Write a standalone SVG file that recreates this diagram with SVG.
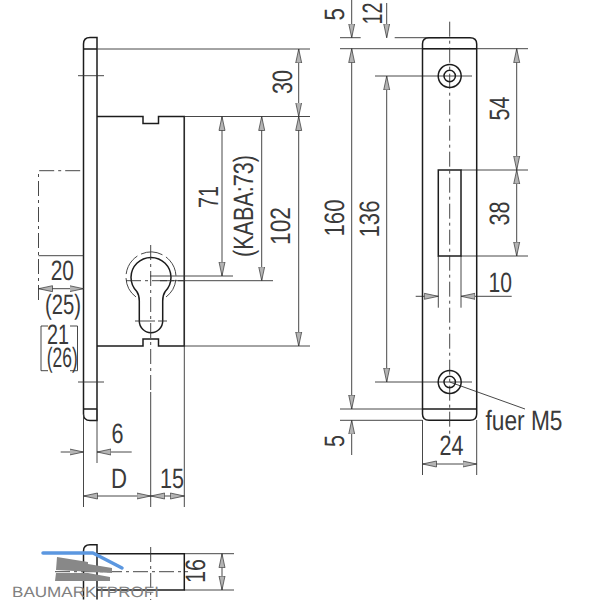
<svg xmlns="http://www.w3.org/2000/svg" width="600" height="600" viewBox="0 0 600 600">
<style>
.o{fill:none;stroke:#1c1c1c;stroke-width:1.5}
.t{fill:none;stroke:#333;stroke-width:.9}
.c{fill:none;stroke:#333;stroke-width:.9;stroke-dasharray:15 4 3 4}
.d{fill:none;stroke:#333;stroke-width:.9;marker-end:url(#a)}
.b{fill:none;stroke:#333;stroke-width:.9;marker-start:url(#a);marker-end:url(#a)}
text{font-family:"Liberation Sans",Arial,sans-serif;font-size:28px;fill:#3a3a3a;text-rendering:geometricPrecision}
.w{font-size:15px;fill:#808080}
</style>
<defs>
<marker id="a" markerUnits="userSpaceOnUse" markerWidth="16" markerHeight="8" refX="14" refY="4" orient="auto-start-reverse" viewBox="0 0 16 8">
<path d="M14 4 L0 1 L0 7 Z" fill="#b4b4b4" stroke="#333" stroke-width=".7"/>
</marker>
</defs>
<rect width="600" height="600" fill="#fff"/>

<g id="side-view">
<path class="o" d="M83.5 49 V44 Q83.5 37.5 90 37.5 H97 V420.5 H90 Q83.5 420.5 83.5 414 V49 H97 M83.5 409 H97"/>
<path class="o" d="M97 116.5 H143 V123.5 H158.5 V116.5 H184.3 V346 H158.5 V339 H143 V346 H97"/>
<path class="t" d="M184.3 116.5 V507"/>
<path class="t" d="M97 409 V463 M83.5 414 V507"/>
<path class="c" d="M38.5 300 V170.7 H83.5"/>
<path class="t" d="M78 75.7 H104 M78 382 H104"/>
</g>

<g id="cylinder">
<path class="o" d="M139.3 321 V301 Q139.3 295 136.8 291.5 A20 20 0 1 1 165.2 291.5 Q162.7 295 162.7 301 V321 A11.7 11.7 0 0 1 139.3 321 Z"/>
<path class="t" stroke-dasharray="22 4" d="M136 297 A25 25 0 1 1 166 297"/>
<path class="c" d="M150.7 245 V392"/>
<path class="t" d="M150.7 392 V507"/>
<path class="c" d="M126 280.7 H184"/>
<path class="t" stroke-dasharray="20 3" d="M135 321 H167"/>
</g>

<g id="connectors">
<path class="t" d="M97 49 H310 M184.3 116.5 H310 M184.3 346 H310 M150 276 H233 M160 280.7 H273"/>
<path class="b" d="M298.7 49 V116.5"/>
<path class="b" d="M222 276 V116.5"/>
<path class="b" d="M261.7 280.7 V116.5"/>
<path class="b" d="M298.7 346 V116.5"/>
<path class="b" d="M38.5 288.7 H83.5"/>
<path class="t" d="M38.5 255.7 H83.5"/>
<path class="t" d="M48 326 H41 V370.7 H48 M70 326 H77.5 V370.7 H70"/>
<path class="d" d="M60.7 452 H83.5"/>
<path class="d" d="M131.7 452 H97"/>
<path class="b" d="M83.5 496 H150.7"/>
<path class="b" d="M150.7 496 H184.3"/>
<path class="t" d="M184.3 553.7 H234 M184.3 590 H234"/>
<path class="b" d="M222 553.7 V590"/>
<path class="t" d="M340 37.7 H360.7 M394.7 37.7 H440 M340 48.7 H528 M375 76 H472 M375 382 H472 M340 409 H422.3 M340 420.3 H422.3 M461 170 H528 M461 256 H528"/>
<path class="d" d="M351.7 0 V37.7"/>
<path class="d" d="M386.7 3 V37.7"/>
<path class="b" d="M351.7 48.7 V409"/>
<path class="b" d="M386.7 76 V382"/>
<path class="d" d="M351.7 455 V420.3"/>
<path class="b" d="M516.7 48.7 V170"/>
<path class="b" d="M516.7 170 V256"/>
<path class="t" d="M438.3 256 V307.7 M461 256 V307.7"/>
<path class="d" d="M415.7 296.3 H438.3"/>
<path class="d" d="M511.7 296.3 H461"/>
<path class="t" d="M422.5 420 V475 M476.7 420 V475"/>
<path class="b" d="M422.5 464 H476.7"/>
<path class="t" d="M449.7 382 L525 409"/>
</g>

<g id="front-plate">
<path class="o" d="M422.5 48.7 V44 Q422.5 37.7 429 37.7 H470 Q476.7 37.7 476.7 44 V414 Q476.7 420.3 470 420.3 H429 Q422.5 420.3 422.5 414 Z"/>
<path class="o" d="M422.5 48.7 H476.7 M422.5 409 H476.7"/>
<rect class="o" x="438.3" y="170" width="22.7" height="86"/>
<path class="c" d="M449.7 21.7 V437"/>
<circle class="o" cx="449.7" cy="76" r="11.5"/>
<circle class="o" cx="449.7" cy="76" r="5.7"/>
<circle class="o" cx="449.7" cy="382" r="11.5"/>
<circle class="o" cx="449.7" cy="382" r="5.7"/>
</g>

<g id="bottom-view">
<path class="o" d="M83.5 599.5 V551 Q83.5 544.7 90 544.7 H97 V599.5 M97 553.7 H184.3 V590 H97"/>
<path class="c" d="M55 571.7 H188"/>
<path class="c" d="M150.7 547 V600"/>
</g>

<g id="watermark">
<path d="M57 557 L88 562 L88 564 L112 568 L112 573 L56 570 Z M56 573 L88 573 L110 577 L110 581 L55 581 Z" fill="#888"/>
<path d="M43 553 H93 L122 568" fill="none" stroke="#5b97e0" stroke-width="3.5" stroke-linecap="round" stroke-linejoin="round"/>
<text class="w" x="12" y="597" textLength="147" lengthAdjust="spacingAndGlyphs">BAUMARKTPROFI</text>
</g>

<g id="labels">
<text transform="translate(291.7 94) rotate(-90)" textLength="24" lengthAdjust="spacingAndGlyphs">30</text>
<text transform="translate(217.7 208) rotate(-90)" textLength="22" lengthAdjust="spacingAndGlyphs">71</text>
<text transform="translate(253 257) rotate(-90)" textLength="102" lengthAdjust="spacingAndGlyphs">(KABA:73)</text>
<text transform="translate(290 245) rotate(-90)" textLength="38" lengthAdjust="spacingAndGlyphs">102</text>
<text x="50.7" y="280" textLength="23.3" lengthAdjust="spacingAndGlyphs">20</text>
<text x="45" y="314" textLength="36" lengthAdjust="spacingAndGlyphs">(25)</text>
<text x="47" y="344" textLength="22" lengthAdjust="spacingAndGlyphs">21</text>
<text x="46.7" y="367" textLength="31" lengthAdjust="spacingAndGlyphs">(26)</text>
<text x="111.5" y="443" textLength="12" lengthAdjust="spacingAndGlyphs">6</text>
<text x="111" y="487.7" textLength="16" lengthAdjust="spacingAndGlyphs">D</text>
<text x="160" y="487.7" textLength="24" lengthAdjust="spacingAndGlyphs">15</text>
<text transform="translate(205 583) rotate(-90)" textLength="24" lengthAdjust="spacingAndGlyphs">16</text>
<text transform="translate(344.3 20.5) rotate(-90)" textLength="12.5" lengthAdjust="spacingAndGlyphs">5</text>
<text transform="translate(381.7 24.5) rotate(-90)" textLength="22" lengthAdjust="spacingAndGlyphs">12</text>
<text transform="translate(509.3 120.5) rotate(-90)" textLength="24" lengthAdjust="spacingAndGlyphs">54</text>
<text transform="translate(509.3 225.5) rotate(-90)" textLength="24" lengthAdjust="spacingAndGlyphs">38</text>
<text x="488.5" y="291.7" textLength="23.5" lengthAdjust="spacingAndGlyphs">10</text>
<text transform="translate(344 236.5) rotate(-90)" textLength="37" lengthAdjust="spacingAndGlyphs">160</text>
<text transform="translate(379 237.5) rotate(-90)" textLength="37" lengthAdjust="spacingAndGlyphs">136</text>
<text x="485.5" y="430" textLength="77" lengthAdjust="spacingAndGlyphs">fuer M5</text>
<text x="439.5" y="455" textLength="24" lengthAdjust="spacingAndGlyphs">24</text>
<text transform="translate(344 447) rotate(-90)" textLength="12" lengthAdjust="spacingAndGlyphs">5</text>
</g>
</svg>
